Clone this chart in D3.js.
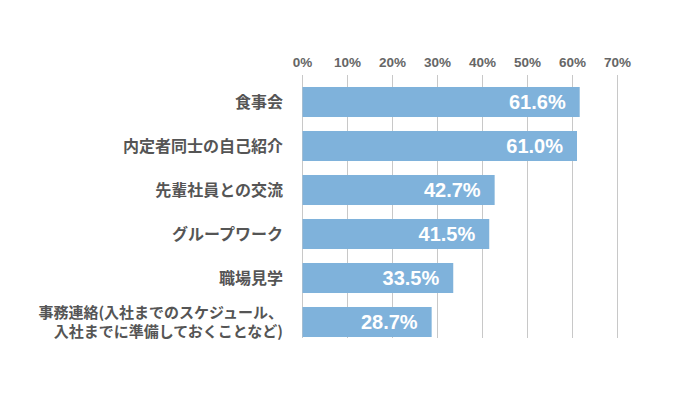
<!DOCTYPE html>
<html><head><meta charset="utf-8">
<script src="https://cdn.jsdelivr.net/npm/d3@7"></script>
<style>body{margin:0;background:#fff}svg{display:block}</style>
</head><body><svg id="c" width="680" height="397"></svg>
<script>
const categories = [["食事会"],["内定者同士の自己紹介"],["先輩社員との交流"],["グループワーク"],["職場見学"],["事務連絡(入社までのスケジュール、","入社までに準備しておくことなど)"]];
const values = [61.6, 61.0, 42.7, 41.5, 33.5, 28.7];
const tickValues = [0,10,20,30,40,50,60,70];

const svg = d3.select("#c");
const font = "'Noto Sans CJK JP', 'Noto Sans', sans-serif";
const x = d3.scaleLinear().domain([0,70]).range([302.5,617.5]);
const y = d3.scaleBand().domain(d3.range(values.length)).range([80,344]).paddingInner(0.318).paddingOuter(0.159);

// gridlines
svg.append("g").selectAll("line").data(tickValues).join("line")
  .attr("x1",d=>x(d)).attr("x2",d=>x(d)).attr("y1",75).attr("y2",338)
  .attr("stroke","#c8c8c8").attr("stroke-width",1);

// tick labels
svg.append("g").selectAll("text").data(tickValues).join("text")
  .attr("x",d=>x(d)).attr("y",67).attr("text-anchor","middle")
  .attr("font-family","'Liberation Sans', Arial, sans-serif").attr("font-size",13.5).attr("font-weight","bold").attr("fill","#666")
  .text(d=>d+"%");

// bars
svg.append("g").selectAll("rect").data(values).join("rect")
  .attr("x",x(0)).attr("y",(d,i)=>y(i)).attr("width",d=>x(d)-x(0)).attr("height",y.bandwidth())
  .attr("fill","#7fb2db");

// value labels
svg.append("g").selectAll("text").data(values).join("text")
  .attr("x",d=>x(d)-14).attr("y",(d,i)=>y(i)+y.bandwidth()/2+7).attr("text-anchor","end")
  .attr("font-family","'Liberation Sans', Arial, sans-serif").attr("font-size",20).attr("font-weight","bold").attr("fill","#fff")
  .text(d=>d.toFixed(1)+"%");

// category labels
const lab = svg.append("g").selectAll("text").data(categories).join("text")
  .attr("text-anchor","end").attr("font-family",font)
  .attr("font-size",d=>d.length>1?15:16).attr("font-weight",700).attr("fill","#555");
lab.each(function(lines,i){
  const t = d3.select(this);
  const cy = y(i)+y.bandwidth()/2;
  const n = lines.length;
  lines.forEach((s,k)=>{
    t.append("tspan").attr("x",283).attr("y",cy+5.5+(k-(n-1)/2)*18.5).text(s);
  });
});
</script></body></html>
